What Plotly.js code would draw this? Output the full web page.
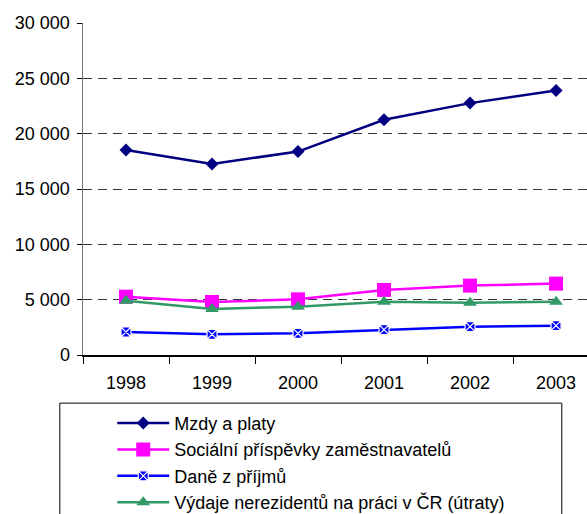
<!DOCTYPE html>
<html>
<head>
<meta charset="utf-8">
<script src="https://cdn.plot.ly/plotly-3.0.1.min.js"></script>
<style>html,body{margin:0;padding:0;background:#fff;}</style>
</head>
<body>
<div id="chart" style="width:587px;height:514px;"></div>
<script>
const years = ["1998", "1999", "2000", "2001", "2002", "2003"];
const seriesNames = ["Mzdy a platy", "Sociální příspěvky zaměstnavatelů", "Daně z příjmů", "Výdaje nerezidentů na práci v ČR (útraty)"];
const mzdy = [18530, 17270, 18380, 21250, 22760, 23900];
const socialni = [5270, 4790, 5030, 5880, 6270, 6450];
const dane = [2080, 1870, 1960, 2290, 2560, 2650];
const vydaje = [4900, 4160, 4370, 4820, 4730, 4820];

const traces = [
  {x: years, y: mzdy, name: seriesNames[0], type: "scatter", mode: "lines+markers",
   line: {color: "#000080", width: 2.5},
   marker: {symbol: "diamond", size: 10, color: "#000080"}},
  {x: years, y: socialni, name: seriesNames[1], type: "scatter", mode: "lines+markers",
   line: {color: "#FF00FF", width: 2.5},
   marker: {symbol: "square", size: 14, color: "#FF00FF"}},
  {x: years, y: dane, name: seriesNames[2], type: "scatter", mode: "lines+markers",
   line: {color: "#0000FF", width: 2.5},
   marker: {symbol: "square-x", size: 10, color: "#0000FF", line: {color: "#FFFFFF", width: 1.2}}},
  {x: years, y: vydaje, name: seriesNames[3], type: "scatter", mode: "lines+markers",
   line: {color: "#339966", width: 2.5},
   marker: {symbol: "triangle-up", size: 12, color: "#339966"}}
];

const layout = {
  width: 587, height: 514,
  margin: {l: 83, r: 0, t: 23, b: 159, autoexpand: false},
  paper_bgcolor: "#fff", plot_bgcolor: "#fff",
  font: {family: "Liberation Sans, Arial, sans-serif", size: 18, color: "#000"},
  separators: ", ",
  showlegend: true,
  xaxis: {
    type: "category",
    range: [-0.5, 5.36],
    showgrid: false, zeroline: false,
    showline: true, linecolor: "#000", linewidth: 1.5,
    ticks: "outside", ticklen: 7, tickcolor: "#000", tickwidth: 1,
    tickson: "boundaries",
    ticklabelstandoff: 11,
    tickfont: {size: 18}
  },
  yaxis: {
    range: [0, 30000],
    tickvals: [0, 5000, 10000, 15000, 20000, 25000, 30000],
    tickformat: ",d",
    showgrid: true, gridcolor: "#333", gridwidth: 1, griddash: "9px,6px",
    zeroline: false,
    showline: true, linecolor: "#777", linewidth: 1.5,
    ticks: "outside", ticklen: 5, tickcolor: "#000",
    ticklabelstandoff: 3,
    tickfont: {size: 18}
  },
  legend: {
    x: 0.058, xanchor: "left", y: -0.15, yanchor: "top",
    bgcolor: "rgba(0,0,0,0)", borderwidth: 0,
    itemwidth: 52,
    font: {size: 18}, tracegroupgap: 0
  },
  shapes: [
    {type: "rect", xref: "paper", yref: "paper",
     x0: -0.046, x1: 0.950, y0: -0.145, y1: -0.52,
     line: {color: "#000", width: 1}, fillcolor: "rgba(0,0,0,0)", layer: "below"}
  ]
};

Plotly.newPlot("chart", traces, layout, {displayModeBar: false, staticPlot: true});
</script>
</body>
</html>
